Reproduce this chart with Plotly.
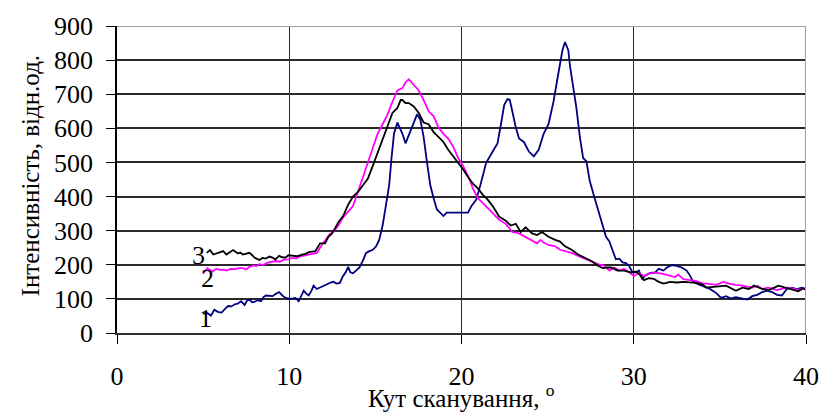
import plotly.graph_objects as go

# Curve 1 (navy)
angle_1 = [5.0, 5.2, 5.45, 5.65, 5.85, 6.07, 6.3, 6.45, 6.65, 6.83, 7.0, 7.21, 7.41, 7.55, 7.69, 7.85, 7.98,
           8.15, 8.36, 8.5, 8.64, 8.85, 9.03, 9.2, 9.41, 9.6, 9.79, 10.07, 10.36, 10.55, 10.7, 10.84, 11.0,
           11.13, 11.3, 11.41, 11.6, 11.9, 12.17, 12.4, 12.56, 12.75, 12.94, 13.1, 13.3, 13.42, 13.55, 13.7,
           13.9, 14.08, 14.3, 14.46, 14.65, 14.85, 15.04, 15.22, 15.42, 15.61, 15.8, 15.93, 16.08, 16.28,
           16.45, 16.57, 16.75, 16.94, 17.1, 17.23, 17.42, 17.61, 17.8, 18.0, 18.19, 18.38, 18.57, 18.76,
           18.95, 19.14, 19.71, 20.38, 20.57, 20.86, 21.14, 21.43, 21.81, 22.09, 22.29, 22.48, 22.67, 22.8,
           22.95, 23.15, 23.34, 23.62, 23.91, 24.2, 24.48, 24.77, 25.05, 25.34, 25.63, 25.86, 26.01, 26.2,
           26.3, 26.49, 26.67, 26.87, 27.06, 27.25, 27.44, 27.73, 28.01, 28.2, 28.39, 28.59, 28.77, 28.96,
           29.16, 29.35, 29.54, 29.73, 29.92, 30.11, 30.3, 30.49, 30.68, 30.97, 31.25, 31.45, 31.73, 31.92,
           32.2, 32.5, 32.78, 33.07, 33.26, 33.45, 33.8, 34.1, 34.4, 34.79, 35.07, 35.36, 35.64, 35.93,
           36.31, 36.6, 36.88, 37.17, 37.46, 37.74, 38.03, 38.32, 38.6, 38.89, 39.18, 39.46, 39.75, 40.0]
intensity_1 = [56, 60, 51, 68, 62, 60, 72, 79, 78, 84, 86, 93, 82, 95, 98, 90, 91,
               96, 93, 105, 110, 108, 108, 114, 120, 110, 103, 100, 103, 93, 108, 124, 115,
               110, 125, 139, 129, 135, 142, 148, 150, 145, 147, 165, 180, 194, 178, 175,
               183, 192, 215, 235, 240, 244, 254, 273, 315, 376, 433, 509, 584, 617,
               600, 584, 556, 580, 600, 622, 641, 626, 575, 499, 433, 395, 362, 353,
               343, 353, 353, 353, 372, 391, 442, 499, 532, 556, 612, 669, 686, 684,
               650, 603, 570, 560, 532, 518, 537, 584, 612, 678, 763, 829, 853, 829,
               782, 725, 660, 575, 513, 504, 447, 395, 350, 315, 282, 268, 244, 216,
               218, 207, 205, 197, 178, 178, 183, 159, 169, 176, 178, 188, 183, 192,
               199, 197, 192, 183, 169, 150, 142, 136, 130, 117, 103, 108, 101, 105,
               101, 98, 108, 112, 120, 124, 120, 112, 110, 129, 133, 129, 133, 129]

# Curve 2 (magenta)
angle_2 = [5.0, 5.1, 5.25, 5.4, 5.55, 5.75, 6.0, 6.2, 6.35, 6.6, 6.85, 7.1, 7.31, 7.5, 7.7, 7.9, 8.1,
           8.27, 8.5, 8.75, 9.0, 9.22, 9.45, 9.7, 9.95, 10.17, 10.4, 10.6, 10.8, 11.13, 11.32, 11.6, 11.89,
           12.17, 12.35, 12.56, 12.85, 13.13, 13.42, 13.7, 13.99, 14.28, 14.56, 14.85, 15.13, 15.42, 15.71,
           15.99, 16.28, 16.57, 16.75, 16.94, 17.1, 17.23, 17.52, 17.8, 18.09, 18.38, 18.66, 18.95, 19.23,
           19.52, 19.81, 20.09, 20.38, 20.66, 20.95, 21.24, 21.52, 21.81, 22.19, 22.57, 22.95, 23.34, 23.72,
           24.1, 24.39, 24.58, 24.77, 25.05, 25.44, 25.72, 26.01, 26.39, 26.77, 27.15, 27.54, 27.92, 28.3,
           28.59, 28.87, 29.16, 29.44, 29.73, 30.02, 30.3, 30.59, 30.88, 31.25, 31.64, 32.02, 32.4, 32.59,
           32.88, 33.26, 33.64, 34.02, 34.21, 34.79, 35.2, 35.55, 35.9, 36.31, 36.6, 36.88, 37.2, 37.46,
           37.75, 38.03, 38.3, 38.6, 38.9, 39.18, 39.55, 39.8, 40.0]
intensity_2 = [175, 182, 190, 185, 180, 188, 185, 186, 183, 188, 187, 190, 190, 186, 194, 198, 196,
               202, 200, 206, 208, 211, 209, 215, 216, 221, 218, 224, 226, 230, 232, 235, 258,
               277, 290, 296, 315, 339, 357, 372, 414, 457, 499, 541, 584, 612, 641,
               678, 711, 718, 735, 744, 735, 725, 711, 683, 650, 636, 603, 584, 570,
               546, 513, 490, 461, 424, 395, 381, 367, 353, 332, 320, 296, 292, 282,
               273, 263, 273, 265, 258, 254, 244, 240, 235, 226, 218, 211, 202, 197,
               183, 192, 183, 188, 178, 167, 176, 167, 174, 176, 174, 169, 164, 171,
               158, 155, 152, 145, 145, 141, 150, 145, 141, 139, 136, 133, 138, 129,
               133, 131, 126, 129, 133, 131, 126, 131, 129]

# Curve 3 (black)
angle_3 = [5.21, 5.4, 5.59, 5.88, 6.17, 6.35, 6.55, 6.74, 7.02, 7.15, 7.31, 7.5, 7.69, 7.85, 7.98, 8.27,
           8.45, 8.64, 8.85, 9.03, 9.2, 9.41, 9.6, 9.79, 9.95, 10.17, 10.45, 10.74, 10.95, 11.13, 11.51,
           11.79, 12.08, 12.27, 12.45, 12.65, 12.85, 13.13, 13.42, 13.7, 13.99, 14.28, 14.56, 14.85, 15.13,
           15.42, 15.71, 15.99, 16.28, 16.47, 16.57, 16.75, 16.94, 17.23, 17.52, 17.8, 18.09, 18.38, 18.66,
           18.95, 19.23, 19.52, 19.81, 20.09, 20.38, 20.66, 20.95, 21.24, 21.52, 21.81, 22.19, 22.57, 22.86,
           23.15, 23.44, 23.72, 24.1, 24.39, 24.67, 25.05, 25.44, 25.72, 26.01, 26.39, 26.77, 27.15, 27.54,
           27.92, 28.2, 28.49, 28.68, 29.06, 29.44, 29.82, 30.11, 30.3, 30.59, 30.88, 31.16, 31.45, 31.73,
           32.11, 32.5, 32.88, 33.26, 33.64, 34.02, 34.21, 34.79, 35.36, 35.93, 36.31, 36.69, 36.98, 37.46,
           37.84, 38.41, 38.79, 39.18, 39.55, 39.84, 40.0]
intensity_3 = [235, 243, 230, 235, 240, 230, 238, 243, 233, 236, 230, 232, 235, 228, 221, 214,
               220, 218, 224, 221, 216, 226, 222, 221, 228, 227, 225, 230, 232, 237, 240,
               263, 263, 282, 290, 306, 325, 343, 376, 400, 414, 433, 452, 490, 527,
               570, 603, 645, 660, 683, 683, 674, 674, 664, 645, 617, 612, 589, 575,
               560, 537, 518, 499, 480, 457, 438, 424, 405, 391, 372, 341, 329, 315,
               320, 296, 310, 292, 287, 296, 282, 273, 268, 254, 244, 230, 221, 211,
               197, 190, 192, 192, 183, 183, 178, 180, 174, 155, 161, 159, 150, 145,
               150, 148, 150, 148, 147, 141, 133, 136, 139, 124, 133, 129, 139, 129,
               126, 139, 133, 129, 122, 131, 126]

x_ticks = [0, 10, 20, 30, 40]
y_ticks = [0, 100, 200, 300, 400, 500, 600, 700, 800, 900]

curve_labels = ["1", "2", "3"]
label_x = [5.13, 5.25, 4.73]
label_y = [42, 161, 226]

FONT = "Liberation Serif, Times New Roman, serif"
SIZE = 26

fig = go.Figure()
for xs, ys, color in [(angle_1, intensity_1, "#000080"),
                      (angle_2, intensity_2, "#FF00FF"),
                      (angle_3, intensity_3, "#000000")]:
    fig.add_trace(go.Scatter(x=xs, y=ys, mode="lines",
                             line=dict(color=color, width=1.8),
                             showlegend=False, hoverinfo="skip"))

for t, lx, ly in zip(curve_labels, label_x, label_y):
    fig.add_annotation(x=lx, y=ly, text=t, showarrow=False,
                       xanchor="center", yanchor="middle",
                       font=dict(family=FONT, size=SIZE, color="black"))

# Axis titles
fig.add_annotation(xref="paper", yref="paper", x=0.5005, y=-0.204,
                   xanchor="center", yanchor="middle",
                   text="Кут сканування, <sup>o</sup>", showarrow=False,
                   font=dict(family=FONT, size=25, color="black"))
fig.add_annotation(xref="paper", yref="paper", x=-0.125, y=0.513,
                   xanchor="center", yanchor="middle",
                   text="Інтенсивність, відн.од.", textangle=-90, showarrow=False,
                   font=dict(family=FONT, size=25, color="black"))

# Grey frame on top and right
fig.add_shape(type="line", xref="x", yref="y", x0=0, x1=40, y0=900, y1=900,
              line=dict(color="#a0a0a0", width=2))
fig.add_shape(type="line", xref="x", yref="y", x0=40, x1=40, y0=0, y1=900,
              line=dict(color="#a0a0a0", width=2))

fig.update_xaxes(range=[0, 40], tickvals=x_ticks, ticktext=[str(v) for v in x_ticks],
                 showgrid=True, gridcolor="#2a2a2a", gridwidth=1,
                 showline=True, linecolor="#303030", linewidth=1.5,
                 ticks="outside", ticklen=9, tickcolor="black", tickwidth=1,
                 tickfont=dict(family=FONT, size=SIZE, color="black"),
                 zeroline=False, ticklabelstandoff=10)
fig.update_yaxes(range=[0, 900], tickvals=y_ticks, ticktext=[str(v) for v in y_ticks],
                 showgrid=True, gridcolor="#2a2a2a", gridwidth=1.5,
                 showline=True, linecolor="black", linewidth=1.5,
                 ticks="outside", ticklen=9, tickcolor="black", tickwidth=1,
                 tickfont=dict(family=FONT, size=SIZE, color="black"),
                 zeroline=False, ticklabelstandoff=8)

fig.update_layout(width=831, height=416,
                  margin=dict(l=117, r=15, t=15, b=83),
                  paper_bgcolor="white", plot_bgcolor="white")

fig.write_html("out.html")
